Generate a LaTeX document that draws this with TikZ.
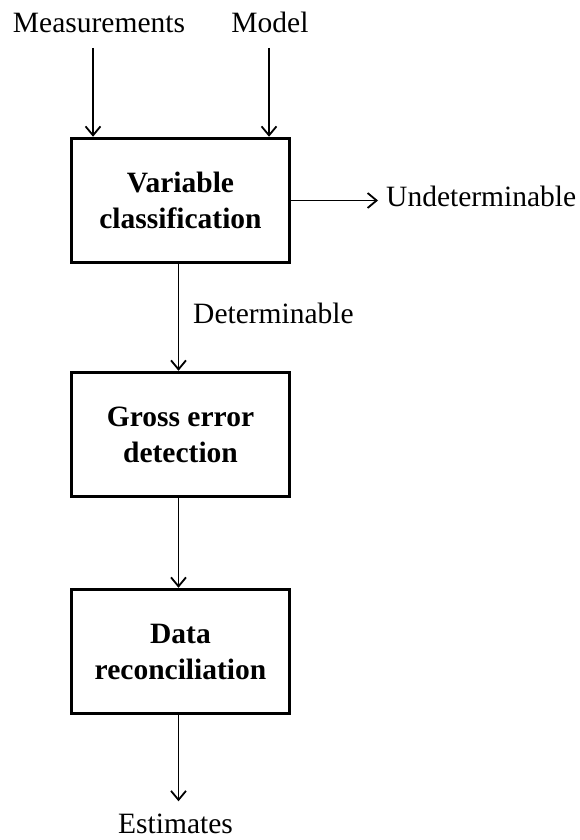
\documentclass[tikz,border=0pt]{standalone}
\usepackage{fontspec}
\setmainfont{Liberation Serif}
\usetikzlibrary{arrows.meta,calc}
\begin{document}
\begin{tikzpicture}[x=1pt,y=-1pt,
  box/.style={draw,line width=3.5pt,minimum width=218pt,minimum height=124pt,align=center,
    font=\fontsize{29.5}{36}\selectfont\bfseries,inner sep=0pt},
  lbl/.style={inner sep=0pt,font=\fontsize{29.5}{36}\selectfont},
  arr/.style={line width=1.8pt,-{Straight Barb[length=9pt,width=15pt,line width=1.8pt]}}]
\useasboundingbox (0,0) rectangle (580,840);
\node[lbl,anchor=base] (meas) at (99,33) {Measurements};
\node[lbl,anchor=base] (model) at (270,33) {Model};
\coordinate (m0) at (93,48);
\coordinate (d0) at (269,48);
\node[box] (b1) at (180.5,200.5) {Variable\\classification};
\node[box] (b2) at (180.5,434.5) {Gross error\\detection};
\node[box] (b3) at (180.5,651.5) {Data\\reconciliation};
\node[lbl,anchor=base west] (und) at (386,206) {Undeterminable};
\node[lbl,anchor=base west] (det) at (193,323) {Determinable};
\node[lbl,anchor=base] (est) at (175.5,833) {Estimates};
\draw[arr] (m0) -- (m0 |- b1.north);
\draw[arr] (d0) -- (d0 |- b1.north);
\draw[arr,shorten >=8pt] (b1.east) -- (b1.east -| und.west);
\draw[arr] ([xshift=-2pt]b1.south) -- ([xshift=-2pt]b2.north);
\draw[arr] ([xshift=-2pt]b2.south) -- ([xshift=-2pt]b3.north);
\draw[arr,shorten >=12pt] ([xshift=-2pt]b3.south) -- ([xshift=-2pt]b3.south |- est.north);
\end{tikzpicture}
\end{document}
